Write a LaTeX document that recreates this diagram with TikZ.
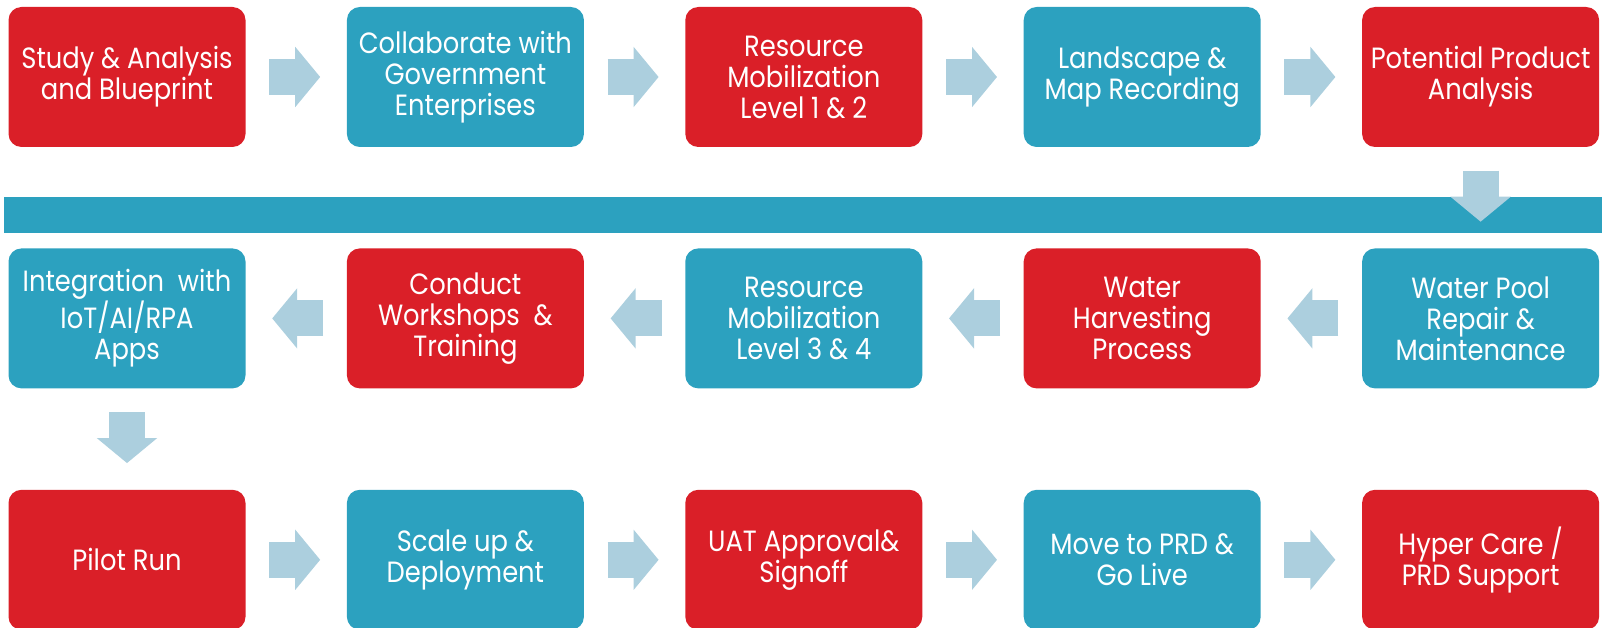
\documentclass[tikz,border=0pt]{standalone}
\usepackage{fontspec}
\setmainfont{Poppins}[FakeStretch=0.88]
\usepackage{tikz}
\usetikzlibrary{positioning, arrows.meta}

\definecolor{stepred}{RGB}{218,31,40}
\definecolor{stepblue}{RGB}{44,161,191}
\definecolor{flowblue}{RGB}{172,207,222}

\begin{document}
\begin{tikzpicture}[x=1pt, y=1pt, node distance=101pt]
    % Default look for each step
    \tikzstyle{every node}=[shape=rectangle, rounded corners=13pt,
        minimum width=237pt, minimum height=140pt, inner sep=0pt,
        text=white, align=center, font=\fontsize{29.3}{31}\selectfont];
    \tikzstyle{redstep}=[fill=stepred];
    \tikzstyle{bluestep}=[fill=stepblue];
    \tikzstyle{flow}=[draw=flowblue, line width=36pt,
        -{Triangle[length=25pt, width=59pt]},
        shorten <=23.5pt, shorten >=26.5pt];
    \useasboundingbox (0,0) rectangle (1602,-628);

    % First row, left to right
    \node [redstep] (s1) at (127,-77) {Study \& Analysis\\and Blueprint};
    \node [bluestep] (s2) [right=of s1] {Collaborate with\\Government\\Enterprises};
    \node [redstep] (s3) [right=of s2] {Resource\\Mobilization\\Level 1 \& 2};
    \node [bluestep] (s4) [right=of s3] {Landscape \&\\Map Recording};
    \node [redstep] (s5) [right=of s4] {Potential Product\\Analysis};
    % Second row, right to left
    \node [bluestep] (s6) [below=of s5] {Water Pool\\Repair \&\\Maintenance};
    \node [redstep] (s7) [left=of s6] {Water\\Harvesting\\Process};
    \node [bluestep] (s8) [left=of s7] {Resource\\Mobilization\\Level 3 \& 4};
    \node [redstep] (s9) [left=of s8] {Conduct\\Workshops~~\&\\Training};
    \node [bluestep] (s10) [left=of s9] {Integration~~with\\IoT/AI/RPA\\Apps};
    % Third row, left to right
    \node [redstep] (s11) [below=of s10] {Pilot Run};
    \node [bluestep] (s12) [right=of s11] {Scale up \&\\Deployment};
    \node [redstep] (s13) [right=of s12] {UAT Approval\&\\Signoff};
    \node [bluestep] (s14) [right=of s13] {Move to PRD \&\\Go Live};
    \node [redstep] (s15) [right=of s14] {Hyper Care /\\PRD Support};

    % Band between first and second row
    \fill [stepblue] ([shift={(-4,-50)}]s1.south west)
        rectangle ([shift={(5,-86)}]s5.south east);

    % Block arrows
    \draw [flow] (s1) -- (s2); \draw [flow] (s2) -- (s3);
    \draw [flow] (s3) -- (s4); \draw [flow] (s4) -- (s5);
    \draw [flow] (s5) -- (s6);
    \draw [flow] (s6) -- (s7); \draw [flow] (s7) -- (s8);
    \draw [flow] (s8) -- (s9); \draw [flow] (s9) -- (s10);
    \draw [flow] (s10) -- (s11);
    \draw [flow] (s11) -- (s12); \draw [flow] (s12) -- (s13);
    \draw [flow] (s13) -- (s14); \draw [flow] (s14) -- (s15);
\end{tikzpicture}
\end{document}
